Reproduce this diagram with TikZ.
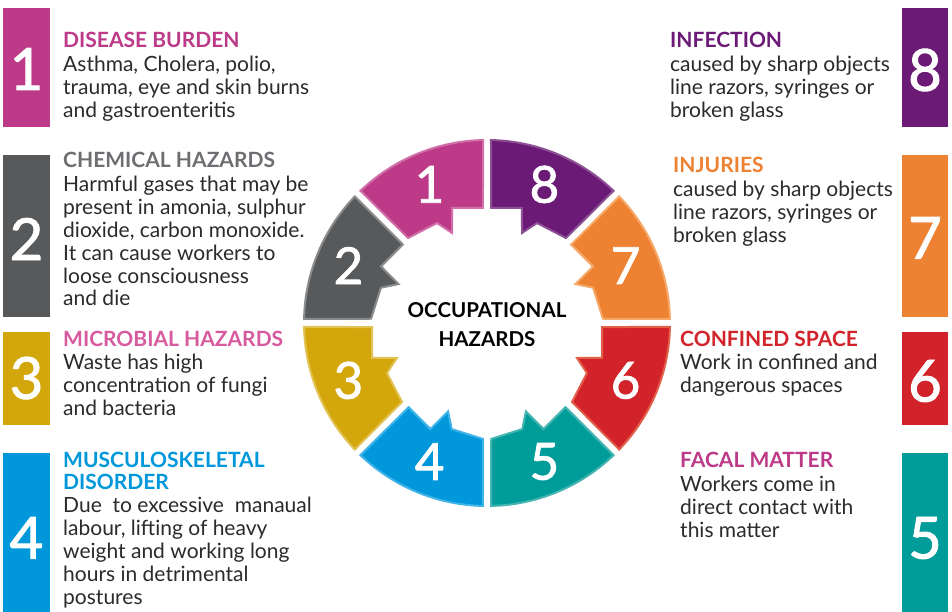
\documentclass[tikz,border=0pt]{standalone}
\usepackage{fontspec}
\setmainfont{Lato}
\newfontfamily\numfont[FakeBold=1.6]{Lato}
\definecolor{cmag}{HTML}{BC3A87}
\definecolor{cmagb}{HTML}{D16FA9}
\definecolor{cgray}{HTML}{58595B}
\definecolor{cgrayb}{HTML}{8A8B8D}
\definecolor{cgold}{HTML}{D3A70C}
\definecolor{cgoldb}{HTML}{E2C155}
\definecolor{cblue}{HTML}{0098DA}
\definecolor{cblueb}{HTML}{40B4E8}
\definecolor{cteal}{HTML}{009C99}
\definecolor{ctealb}{HTML}{45B5B2}
\definecolor{cred}{HTML}{D2232A}
\definecolor{credb}{HTML}{E2604A}
\definecolor{corange}{HTML}{EE8233}
\definecolor{corangeb}{HTML}{F6A868}
\definecolor{cpurple}{HTML}{6B1A75}
\definecolor{cpurpleb}{HTML}{8E5196}
\definecolor{tgray}{HTML}{6D6E71}
\definecolor{tpink}{HTML}{D85A9E}
\definecolor{bodygray}{HTML}{2B2A2C}
\newcommand\ringseg[3]{%
  \begin{scope}[#1]
    \filldraw[fill=#2, draw=#3, line width=2pt, line join=miter]
      (91.25:183pt) arc[start angle=91.25, end angle=133.75, radius=183pt]
      -- (132.9:116pt) -- (116.6:111.8pt) -- (111.25:96.6pt)
      -- (106.9:120.2pt) -- (92:115.07pt) -- cycle;
  \end{scope}}
\newcommand\leftlines[1]{\vtop{\halign{##\hfil\cr #1\crcr}}}
\newcommand\midlines[1]{\vtop{\halign{\hfil##\hfil\cr #1\crcr}}}
\begin{document}
\begin{tikzpicture}[x=1pt,y=1pt,
  bodytext/.style={anchor=base west, inner sep=0pt, text=bodygray, font=\fontsize{21}{22.8}\selectfont},
  headtext/.style={anchor=base west, inner sep=0pt, font=\bfseries\fontsize{21}{22}\selectfont},
  boxnum/.style={text=white, inner sep=0pt, font=\numfont\fontsize{58}{58}\selectfont},
  ringnum/.style={text=white, inner sep=0pt, font=\numfont\fontsize{51}{51}\selectfont}]
\useasboundingbox (0,0) rectangle (952,612);
\fill[white] (0,0) rectangle (952,612);

% ---- ring ----
\begin{scope}[shift={(487,289)}]
  \ringseg{}{cmag}{cmagb}
  \ringseg{rotate=45}{cgray}{cgrayb}
  \ringseg{rotate=90}{cgold}{cgoldb}
  \ringseg{rotate=135}{cblue}{cblueb}
  \ringseg{xscale=-1}{cpurple}{cpurpleb}
  \ringseg{xscale=-1,rotate=45}{corange}{corangeb}
  \ringseg{xscale=-1,rotate=90}{cred}{credb}
  \ringseg{xscale=-1,rotate=135}{cteal}{ctealb}
  \node[ringnum] (r1) at (112.5:150pt) {1};
  \node[ringnum] (r2) at (157.5:150pt) {2};
  \node[ringnum] (r3) at (202.5:150pt) {3};
  \node[ringnum] (r4) at (247.5:150pt) {4};
  \node[ringnum] (r5) at (292.5:150pt) {5};
  \node[ringnum] (r6) at (337.5:150pt) {6};
  \node[ringnum] (r7) at (22.5:150pt) {7};
  \node[ringnum] (r8) at (67.5:150pt) {8};
  \node[inner sep=0pt, anchor=base, font=\bfseries\fontsize{20.5}{29}\selectfont, text=black] (center) at (0,5) {\midlines{OCCUPATIONAL\cr HAZARDS}};
\end{scope}

% ---- side boxes ----
\fill[cmag] (3,485) rectangle (50,604);
\fill[cgray] (3,295) rectangle (50,457);
\fill[cgold] (3,187) rectangle (50,280);
\fill[cblue] (3,-10) rectangle (50,159);
\fill[cpurple] (902,485) rectangle (948,604);
\fill[corange] (902,295) rectangle (948,457);
\fill[cred] (902,187) rectangle (948,280);
\fill[cteal] (902,-10) rectangle (948,159);
\node[boxnum] (b1) at (26.5,543) {1};
\node[boxnum] (b2) at (26.5,373) {2};
\node[boxnum] (b3) at (26.5,234) {3};
\node[boxnum] (b4) at (26.5,74) {4};
\node[boxnum] (b8) at (925,542) {8};
\node[boxnum] (b7) at (925,374) {7};
\node[boxnum] (b6) at (925,231) {6};
\node[boxnum] (b5) at (925,74) {5};

% ---- texts left ----
\node[headtext, text=cmag] (h1) at (63,564) {DISEASE BURDEN};
\node[bodytext] (t1) at (63,540) {\leftlines{Asthma, Cholera, polio,\cr trauma, eye and skin burns\cr and gastroenteritis}};
\node[headtext, text=tgray] (h2) at (63,444) {CHEMICAL HAZARDS};
\node[bodytext] (t2) at (63,420) {\leftlines{Harmful gases that may be\cr present in amonia, sulphur\cr dioxide, carbon monoxide.\cr It can cause workers to\cr loose consciousness\cr and die}};
\node[headtext, text=tpink] (h3) at (63,265) {MICROBIAL HAZARDS};
\node[bodytext] (t3) at (63,242) {\leftlines{Waste has high\cr concentration of fungi\cr and bacteria}};
\node[headtext, text=cblue] (h4) at (63,144) {\leftlines{MUSCULOSKELETAL\cr DISORDER}};
\node[bodytext] (t4) at (63,99) {\leftlines{Due\ \ to excessive\ \ manaual\cr labour, lifting of heavy\cr weight and working long\cr hours in detrimental\cr postures}};

% ---- texts right ----
\node[headtext, text=cpurple] (h8) at (670,564) {INFECTION};
\node[bodytext] (t8) at (670,540) {\leftlines{caused by sharp objects\cr line razors, syringes or\cr broken glass}};
\node[headtext, text=corange] (h7) at (673,439) {INJURIES};
\node[bodytext] (t7) at (673,415) {\leftlines{caused by sharp objects\cr line razors, syringes or\cr broken glass}};
\node[headtext, text=cred] (h6) at (680,265) {CONFINED SPACE};
\node[bodytext] (t6) at (680,242) {\leftlines{Work in confined and\cr dangerous spaces}};
\node[headtext, text=cmag] (h5) at (680,144) {FACAL MATTER};
\node[bodytext] (t5) at (680,120) {\leftlines{Workers come in\cr direct contact with\cr this matter}};
\end{tikzpicture}
\end{document}
